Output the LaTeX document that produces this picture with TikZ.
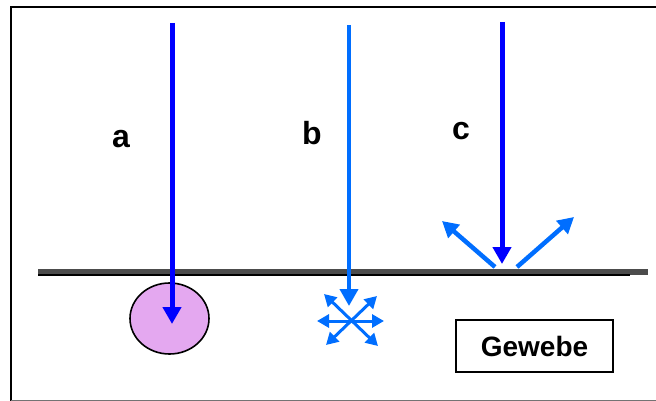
\documentclass[tikz,border=0pt]{standalone}
\usepackage{fontspec}
\setmainfont{Liberation Sans}
\usetikzlibrary{arrows.meta,shapes.geometric}
\definecolor{rayblue}{RGB}{0,0,255}
\definecolor{lightray}{RGB}{0,110,255}
\definecolor{cellviolet}{RGB}{228,168,240}
\tikzset{
  ray/.style={line width=5pt, -{Triangle[length=17pt,width=18pt]}},
  refl/.style={lightray, line width=4.5pt, -{Triangle[length=16pt,width=17pt]}},
  scat/.style={lightray, line width=3pt, {Triangle[length=12pt,width=13pt]}-{Triangle[length=12pt,width=13pt]}},
  lbl/.style={font=\bfseries\fontsize{32}{32}\selectfont, inner sep=0pt},
}
\begin{document}
\begin{tikzpicture}[x=1pt,y=-1pt]
\useasboundingbox (0,0) rectangle (656,401);
% frame
\draw[line width=2pt] (10.5,401) -- (10.5,7.5) -- (656,7.5);
\draw[line width=1.5pt, black!55] (10.5,400.5) -- (656,400.5);
% tissue surface
\draw[line width=6pt, black!70] (38,272) -- (648,272);
\draw[line width=2.5pt, black] (38,275) -- (630,275);
% absorbing cell
\node[draw, line width=1.6pt, fill=cellviolet, ellipse, minimum width=79pt, minimum height=71pt, inner sep=0pt] (cell) at (169.5,318.5) {};
% ray a
\coordinate (a0) at (172,23);
\coordinate (a1) at (172,324);
\draw[ray, rayblue] (a0) -- (a1);
% ray b with scattering
\coordinate (b0) at (349,25);
\coordinate (b1) at (349,306);
\draw[ray, lightray, line width=4pt] (b0) -- (b1);
\coordinate (sL) at (317,321);
\coordinate (sR) at (384,321);
\coordinate (sUL) at (324,294);
\coordinate (sUR) at (377,296);
\coordinate (sDL) at (326,345);
\coordinate (sDR) at (378,346);
\draw[scat] (sL) -- (sR);
\draw[scat] (sUL) -- (sDR);
\draw[scat] (sDL) -- (sUR);
% ray c with reflection
\coordinate (c0) at (502,22);
\coordinate (c1) at (502,264);
\draw[ray, rayblue] (c0) -- (c1);
\coordinate (rL0) at (495,267);
\coordinate (rL1) at (442,221);
\coordinate (rR0) at (517,267);
\coordinate (rR1) at (574,217);
\draw[refl] (rL0) -- (rL1);
\draw[refl] (rR0) -- (rR1);
% labels
\node[lbl] (la) at (121,139) {a};
\node[lbl] (lb) at (312,133) {b};
\node[lbl] (lc) at (461,131) {c};
\node[draw, line width=1.8pt, minimum width=157pt, minimum height=52pt, font=\bfseries\fontsize{28}{28}\selectfont] (tissue) at (534.5,346) {Gewebe};
\end{tikzpicture}
\end{document}
